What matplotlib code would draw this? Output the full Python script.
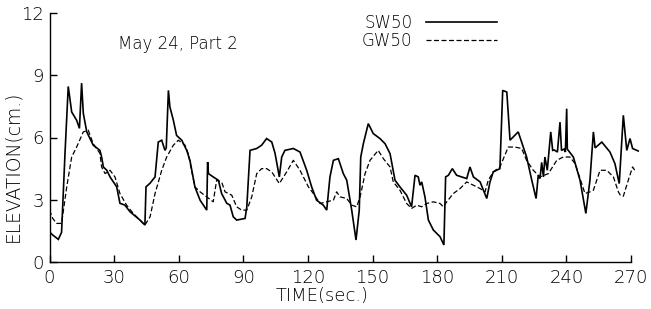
import matplotlib
matplotlib.use("Agg")
import matplotlib.pyplot as plt

plt.rcParams["font.family"] = ["DejaVu Sans"]
plt.rcParams["font.weight"] = "light"
plt.rcParams["axes.labelweight"] = "light"

# SW50 (solid) time (s) and elevation (cm)
sw_t = [0, 1.5, 4.1, 5.6, 7.2, 8.7, 10.3, 12.6, 13.9, 14.9, 15.7, 17.3, 20.3, 23.4, 24.2, 25.0,
        26.6, 28.1, 31.2, 32.7, 35.0, 37.4, 42.0, 44.3, 44.8, 46.7, 49.0, 50.5, 52.1, 53.6, 54.2,
        55.2, 55.9, 57.5, 59.0, 61.4, 63.7, 65.2, 67.5, 69.9, 73.0, 73.4, 73.8, 76.0, 78.4, 79.9,
        82.3, 83.8, 85.3, 86.9, 90.8, 91.6, 93.1, 96.2, 98.5, 100.8, 103.2, 104.7, 106.7, 107.8,
        109.3, 113.2, 116.3, 119.4, 121.7, 124.0, 127.1, 128.7, 130.2, 131.8, 134.1, 136.4, 138.0,
        140.3, 142.3, 143.8, 144.5, 145.7, 148.0, 150.3, 153.4, 155.8, 158.1, 160.4, 162.7, 165.8,
        168.1, 169.7, 171.2, 172.0, 172.8, 174.3, 175.9, 178.2, 181.3, 183.1, 183.9, 185.2, 187.0,
        189.0, 193.7, 195.2, 196.8, 199.9, 203.0, 204.5, 206.0, 209.1, 210.4, 212.3, 213.8, 217.6,
        221.5, 223.9, 225.9, 226.9, 227.7, 228.5, 229.3, 230.0, 231.1, 232.7, 233.6, 234.3, 235.8,
        237.0, 237.7, 238.9, 239.5, 240.1, 240.4, 243.2, 246.3, 249.0, 250.9, 252.5, 253.3, 256.4,
        260.2, 262.5, 264.5, 266.4, 268.0, 269.5, 270.7, 273.3]
sw_v = [1.45, 1.3, 1.09, 1.43, 5.24, 8.46, 7.23, 6.83, 6.44, 8.62, 7.16, 6.27, 5.63, 5.38, 5.06, 4.58,
        4.42, 4.10, 3.62, 2.83, 2.74, 2.42, 2.02, 1.78, 3.62, 3.80, 4.10, 5.78, 5.87, 5.38, 5.50,
        8.27, 7.47, 6.83, 6.10, 5.87, 5.38, 4.90, 3.62, 2.98, 2.50, 4.82, 4.26, 4.10, 3.94, 3.30,
        2.83, 2.74, 2.18, 2.02, 2.10, 2.66, 5.38, 5.47, 5.63, 5.95, 5.78, 5.24, 4.10, 5.06,
        5.38, 5.47, 5.30, 4.42, 3.62, 2.98, 2.74, 2.50, 4.10, 4.90, 4.98, 4.26, 3.94,
        2.50, 1.06, 2.50, 5.06, 5.70, 6.67, 6.19, 5.95, 5.70, 5.22, 3.94, 3.62, 3.22,
        2.66, 4.18, 4.10, 3.70, 3.86, 3.14, 2.02, 1.54, 1.22, 0.82, 4.10, 4.18, 4.50,
        4.18, 4.02, 4.58, 4.10, 3.86, 3.06, 3.86, 4.34, 4.50, 8.27, 8.19, 5.87, 6.27,
        5.06, 3.94, 3.06, 4.18, 4.02, 4.80, 4.10, 5.06, 4.42, 6.27, 5.38, 5.40, 5.30,
        6.74, 5.38, 5.44, 5.30, 7.39, 5.44, 5.06, 3.94, 2.34, 3.94, 6.27, 5.50, 5.78,
        5.30, 4.74, 3.78, 7.07, 5.38, 5.95, 5.47, 5.35]

# GW50 (dashed) time (s) and elevation (cm)
gw_t = [0, 1.5, 3.3, 5.6, 8.0, 10.3, 12.6, 15.7, 18.0, 20.3, 23.4, 24.2, 25.8, 28.1, 30.4, 32.7,
        35.8, 38.9, 44.3, 46.7, 49.0, 52.1, 54.4, 57.5, 59.8, 62.9, 64.4, 67.5, 69.9, 73.0, 76.0,
        77.6, 79.9, 81.5, 84.6, 86.9, 89.2, 91.6, 93.9, 96.2, 98.5, 100.8, 103.2, 106.7, 110.1,
        113.2, 116.3, 120.2, 122.5, 125.6, 128.7, 131.8, 133.3, 134.9, 138.0, 140.3, 142.6, 144.2,
        146.5, 148.8, 152.6, 155.0, 158.1, 159.6, 162.7, 165.8, 168.1, 170.5, 172.8, 175.1, 178.2,
        181.3, 182.8, 184.4, 187.5, 190.6, 193.7, 199.9, 202.2, 203.7, 206.0, 209.1, 213.0, 216.1,
        219.2, 221.5, 224.6, 227.7, 231.6, 235.5, 238.5, 241.6, 244.0, 246.3, 248.6, 250.9, 252.5,
        255.6, 258.7, 261.8, 264.1, 265.0, 266.4, 268.7, 270.7, 272.2]
gw_v = [2.5, 2.1, 1.86, 1.86, 3.62, 5.06, 5.54, 6.27, 6.35, 5.70, 5.24, 4.58, 4.26, 4.42, 4.10, 3.30,
        2.74, 2.34, 1.78, 2.18, 3.30, 4.42, 5.06, 5.63, 5.87, 5.63, 5.22, 3.62, 3.38, 3.14, 2.90,
        3.94, 3.86, 3.38, 3.22, 2.66, 2.50, 2.50, 3.14, 4.26, 4.50, 4.50, 4.34, 3.78, 4.34,
        4.90, 4.42, 3.62, 3.30, 2.82, 2.90, 2.98, 3.38, 3.14, 3.06, 2.74, 2.66, 3.14,
        4.26, 4.90, 5.38, 4.98, 4.58, 3.86, 3.46, 2.82, 2.58, 2.74, 2.66, 2.82, 2.90,
        2.82, 2.66, 2.90, 3.30, 3.54, 3.86, 3.54, 3.38, 3.94, 4.34, 4.58, 5.54, 5.54,
        5.47, 4.90, 4.42, 4.10, 4.26, 4.90, 5.06, 5.06, 4.74, 4.02, 3.30, 3.38, 3.46,
        4.42, 4.42, 4.10, 3.38, 3.22, 3.17, 3.94, 4.58, 4.34]

x_ticks = [0, 30, 60, 90, 120, 150, 180, 210, 240, 270]
y_ticks = [0, 3, 6, 9, 12]

W, H = 651, 309
fig = plt.figure(figsize=(W / 100, H / 100), dpi=100)
x0, x1 = 49.5, 49.5 + 275 * 2.154
y0, y1 = 262, 13
ax = fig.add_axes([x0 / W, 1 - y0 / H, (x1 - x0) / W, (y0 - y1) / H])

ax.plot(sw_t, sw_v, color="black", lw=1.2, solid_joinstyle="miter", label="SW50")
ax.plot(gw_t, gw_v, color="black", lw=0.9, ls=(0, (4, 2)), label="GW50")

ax.set_xlim(0, 275)
ax.set_ylim(0, 12)
ax.set_xticks(x_ticks)
ax.set_yticks(y_ticks)
for s in ["top", "right"]:
    ax.spines[s].set_visible(False)
ax.spines["bottom"].set_bounds(0, 270)
ax.spines["left"].set_bounds(0, 12)
ax.spines["bottom"].set_linewidth(1.0)
ax.spines["left"].set_linewidth(1.0)
ax.tick_params(direction="in", length=5, width=1.0, labelsize=13, labelcolor="black")
ax.tick_params(axis="x", pad=5)
ax.tick_params(axis="y", pad=4)

ax.set_xlabel("TIME(sec.)", fontsize=13)
ax.xaxis.set_label_coords((322 - x0) / (x1 - x0), 1 - (296 - y1) / (y0 - y1))
ax.xaxis.label.set_va("center")
ax.set_ylabel("ELEVATION(cm.)", fontsize=13.5)
ax.yaxis.set_label_coords((13 - x0) / (x1 - x0), 1 - (166 - y1) / (y0 - y1))
ax.yaxis.label.set_va("center")

fig.text(118 / W, 1 - 44 / H, "May 24, Part 2", fontsize=12, va="center", ha="left")

leg = ax.legend(loc="upper left", bbox_to_anchor=(362 / W, 1 - 14 / H),
                bbox_transform=fig.transFigure, frameon=False, markerfirst=False,
                handlelength=4.3, fontsize=12, borderpad=0, borderaxespad=0,
                labelspacing=0.0, handletextpad=0.78)

fig.savefig("out.png", dpi=100)
